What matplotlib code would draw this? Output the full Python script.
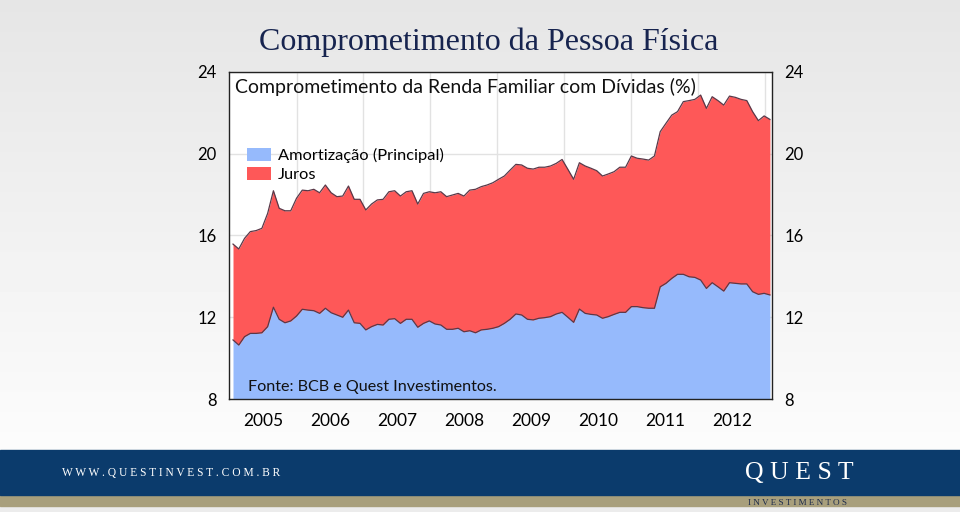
import numpy as np
import matplotlib
matplotlib.use('Agg')
import matplotlib.pyplot as plt
from matplotlib.patches import Rectangle

# monthly values (% of family income)
total = [15.58, 15.34, 15.86, 16.19, 16.24, 16.35, 17.08, 18.19, 17.33, 17.21,
         17.21, 17.82, 18.22, 18.19, 18.26, 18.09, 18.47, 18.09, 17.90, 17.93,
         18.42, 17.77, 17.77, 17.25, 17.54, 17.74, 17.77, 18.14, 18.19, 17.93,
         18.14, 18.19, 17.54, 18.06, 18.14, 18.09, 18.14, 17.90, 17.98, 18.06,
         17.93, 18.22, 18.26, 18.39, 18.47, 18.58, 18.75, 18.91, 19.20, 19.48,
         19.45, 19.29, 19.25, 19.34, 19.34, 19.40, 19.53, 19.72, 19.24, 18.75,
         19.56, 19.40, 19.29, 19.17, 18.91, 19.01, 19.12, 19.34, 19.34, 19.89,
         19.78, 19.74, 19.69, 19.89, 21.08, 21.49, 21.89, 22.06, 22.55, 22.60,
         22.66, 22.87, 22.22, 22.79, 22.60, 22.38, 22.82, 22.76, 22.66, 22.60,
         22.06, 21.62, 21.85, 21.68]
amortizacao = [10.89, 10.64, 11.05, 11.21, 11.21, 11.24, 11.54, 12.49, 11.90, 11.73,
               11.82, 12.06, 12.39, 12.35, 12.32, 12.19, 12.44, 12.22, 12.11, 12.00,
               12.35, 11.73, 11.70, 11.38, 11.54, 11.65, 11.62, 11.90, 11.93, 11.70,
               11.90, 11.90, 11.51, 11.70, 11.82, 11.67, 11.62, 11.41, 11.41, 11.46,
               11.29, 11.34, 11.24, 11.38, 11.41, 11.46, 11.54, 11.70, 11.90, 12.16,
               12.11, 11.90, 11.87, 11.95, 11.98, 12.03, 12.16, 12.24, 12.00, 11.75,
               12.40, 12.19, 12.14, 12.11, 11.95, 12.03, 12.14, 12.24, 12.24, 12.52,
               12.52, 12.47, 12.44, 12.44, 13.49, 13.66, 13.90, 14.10, 14.10, 13.98,
               13.95, 13.82, 13.41, 13.69, 13.49, 13.28, 13.69, 13.66, 13.63, 13.63,
               13.25, 13.12, 13.17, 13.09]
years = [2005, 2006, 2007, 2008, 2009, 2010, 2011, 2012]
yticks = [8, 12, 16, 20, 24]

FONT = 'Lato'
BLUE = '#96bafc'
RED = '#fe5858'
EDGE = '#5a3848'

fig = plt.figure(figsize=(9.6, 5.12), dpi=100)

# light gray gradient background
bg = fig.add_axes([0, 0, 1, 1], zorder=-10)
grad = np.linspace(0.90, 1.0, 256).reshape(-1, 1)
bg.imshow(grad, aspect='auto', cmap='gray', vmin=0, vmax=1,
          extent=[0, 1, 0, 1], origin='upper')
bg.set_xlim(0, 1)
bg.set_ylim(0, 1)
bg.axis('off')

# footer banner
fig.add_artist(Rectangle((0, 0), 1, 0.0117, transform=fig.transFigure,
                         color='#ececec', zorder=-5))
fig.add_artist(Rectangle((0, 0.0117), 1, 0.0215, transform=fig.transFigure,
                         color='#a89f7c', zorder=-5))
fig.add_artist(Rectangle((0, 0.0332), 1, 0.088, transform=fig.transFigure,
                         color='#0b3b6c', zorder=-5))
fig.text(0.065, 0.077, 'W W W . Q U E S T I N V E S T . C O M . B R',
         family='Liberation Serif', fontsize=8.3, color='white', va='center')
fig.text(0.776, 0.077, 'Q U E S T', family='Liberation Serif', fontsize=18.5,
         color='white', va='center')
fig.text(0.779, 0.018, 'I N V E S T I M E N T O S', family='Liberation Serif',
         fontsize=6.6, color='#1c2a4a', va='center')

fig.text(0.509, 0.918, 'Comprometimento da Pessoa Física', family='Liberation Serif',
         fontsize=23, color='#17244f', ha='center', va='center')

ax = fig.add_axes([0.2385, 0.2207, 0.5656, 0.6387])
x = np.arange(len(total))
ax.fill_between(x, 8, amortizacao, color=BLUE, lw=0, label='Amortização (Principal)', zorder=2)
ax.fill_between(x, amortizacao, total, color=RED, lw=0, label='Juros', zorder=2)
ax.plot(x, amortizacao, color=EDGE, lw=0.9, zorder=3)
ax.plot(x, total, color=EDGE, lw=0.9, zorder=3)

year_pos = [5.2 + 11.6 * i for i in range(len(years))]
ax.set_xlim(-0.7, 93.35)
ax.set_ylim(8, 24)
ax.set_xticks(year_pos)
ax.set_xticklabels([str(y) for y in years], family=FONT, fontsize=12.5)
ax.set_xticks([p + 5.8 for p in year_pos], minor=True)
ax.set_yticks(yticks)
ax.set_yticklabels([str(v) for v in yticks], family=FONT, fontsize=12)
ax.tick_params(axis='x', which='both', length=0, pad=10)
ax.tick_params(axis='y', length=0, pad=9, labelright=True)
ax.grid(True, which='minor', axis='x', color='#e2e2e2', lw=1, zorder=0)
ax.grid(True, which='major', axis='y', color='#e2e2e2', lw=1, zorder=0)
for s in ax.spines.values():
    s.set_color('#222222')
    s.set_linewidth(1)

ax.text(0.012, 0.955, 'Comprometimento da Renda Familiar com Dívidas (%)',
        transform=ax.transAxes, family=FONT, fontsize=14, color='#111111', va='center')
ax.text(0.035, 0.037, 'Fonte: BCB e Quest Investimentos.', transform=ax.transAxes,
        family=FONT, fontsize=11.6, color='#111111', va='center')
leg = ax.legend(loc='upper left', bbox_to_anchor=(0.033, 0.767), frameon=False,
                prop={'family': FONT, 'size': 11.8}, handlelength=1.45, handleheight=0.8,
                labelspacing=0.25, borderaxespad=0, handletextpad=0.45,
                borderpad=0)

fig.savefig('out.png', dpi=100)
